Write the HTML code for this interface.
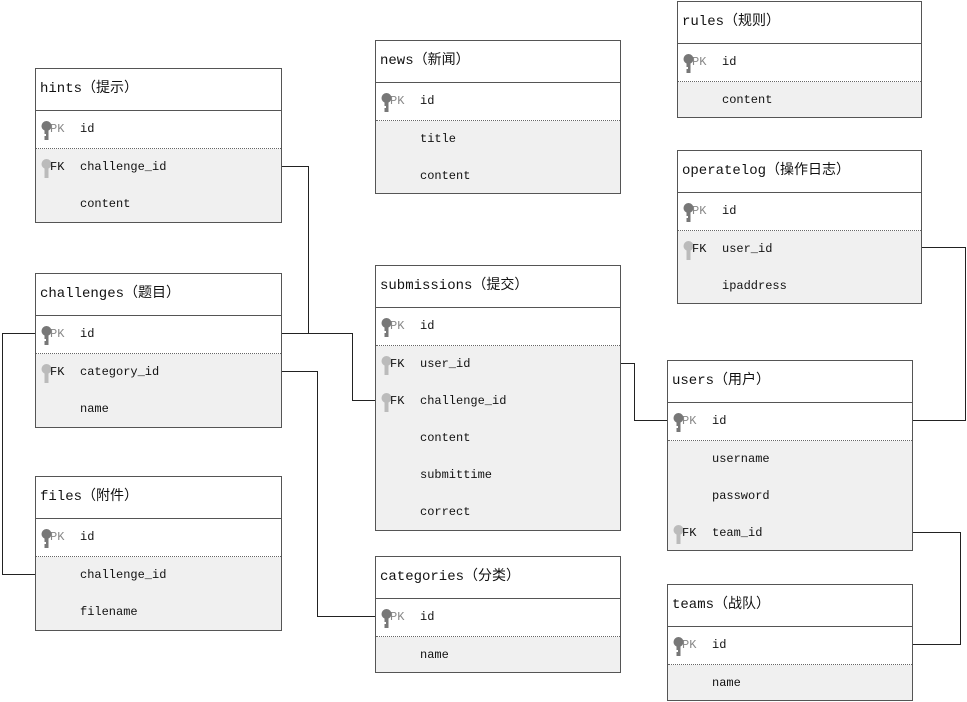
<!DOCTYPE html>
<html><head><meta charset="utf-8"><style>
body{margin:0;width:967px;height:702px;background:#fff;position:relative;overflow:hidden;font-family:"Liberation Mono","Noto Sans CJK SC",monospace;}
.t{position:absolute;border:1px solid #555;background:#f0f0f0;box-sizing:border-box;}
.h{height:41px;background:#fff;border-bottom:1px solid #555;font-size:14px;line-height:41px;padding-left:4px;color:#111;white-space:nowrap;}
.r{height:37px;position:relative;font-size:12px;line-height:37px;color:#111;}
.pk{height:38px;background:#fff;border-bottom:1px dotted #666;box-sizing:border-box;}
.k{position:absolute;left:14px;top:0;font-size:12px;}
.pk .k{color:#888}
.n{position:absolute;left:44px;top:0;}
.key{position:absolute;left:5px;top:10px;width:11px;height:20px;}
svg.l{position:absolute;left:0;top:0;}
</style></head><body>
<svg class="l" width="967" height="702"><g fill="none" stroke="#222" stroke-width="1">
<polyline points="281,166.5 308.5,166.5 308.5,333.5 281,333.5"/>
<polyline points="281,333.5 352.5,333.5 352.5,400.5 375,400.5"/>
<polyline points="35,333.5 2.5,333.5 2.5,574.5 35,574.5"/>
<polyline points="281,371.5 317.5,371.5 317.5,616.5 375,616.5"/>
<polyline points="620,363.5 634.5,363.5 634.5,420.5 667,420.5"/>
<polyline points="912,420.5 965.5,420.5 965.5,247.5 921,247.5"/>
<polyline points="912,532.5 960.5,532.5 960.5,644.5 912,644.5"/>
</g></svg>

<svg width="0" height="0" style="position:absolute"><defs>
<symbol id="kd" viewBox="0 0 11 20"><circle cx="5.5" cy="5" r="5" fill="#777"/><rect x="3.5" y="8" width="4" height="11" fill="#777"/><rect x="3" y="13" width="2" height="2" fill="#fff"/></symbol>
<symbol id="kl" viewBox="0 0 11 20"><circle cx="5.5" cy="5" r="5" fill="#bbb"/><rect x="3.5" y="8" width="4" height="11" fill="#bbb"/></symbol>
</defs></svg>

<div class="t" style="left:35px;top:68px;width:247px;height:155px">
<div class="h">hints（提示）</div>
<div class="r pk"><svg class="key"><use href="#kd"/></svg><span class="k">PK</span><span class="n">id</span></div>
<div class="r"><svg class="key"><use href="#kl"/></svg><span class="k">FK</span><span class="n">challenge_id</span></div>
<div class="r"><span class="n">content</span></div>
</div>

<div class="t" style="left:35px;top:273px;width:247px;height:155px">
<div class="h">challenges（题目）</div>
<div class="r pk"><svg class="key"><use href="#kd"/></svg><span class="k">PK</span><span class="n">id</span></div>
<div class="r"><svg class="key"><use href="#kl"/></svg><span class="k">FK</span><span class="n">category_id</span></div>
<div class="r"><span class="n">name</span></div>
</div>

<div class="t" style="left:35px;top:476px;width:247px;height:155px">
<div class="h">files（附件）</div>
<div class="r pk"><svg class="key"><use href="#kd"/></svg><span class="k">PK</span><span class="n">id</span></div>
<div class="r"><span class="n">challenge_id</span></div>
<div class="r"><span class="n">filename</span></div>
</div>

<div class="t" style="left:375px;top:40px;width:246px;height:154px">
<div class="h">news（新闻）</div>
<div class="r pk"><svg class="key"><use href="#kd"/></svg><span class="k">PK</span><span class="n">id</span></div>
<div class="r"><span class="n">title</span></div>
<div class="r"><span class="n">content</span></div>
</div>

<div class="t" style="left:375px;top:265px;width:246px;height:266px">
<div class="h">submissions（提交）</div>
<div class="r pk"><svg class="key"><use href="#kd"/></svg><span class="k">PK</span><span class="n">id</span></div>
<div class="r"><svg class="key"><use href="#kl"/></svg><span class="k">FK</span><span class="n">user_id</span></div>
<div class="r"><svg class="key"><use href="#kl"/></svg><span class="k">FK</span><span class="n">challenge_id</span></div>
<div class="r"><span class="n">content</span></div>
<div class="r"><span class="n">submittime</span></div>
<div class="r"><span class="n">correct</span></div>
</div>

<div class="t" style="left:375px;top:556px;width:246px;height:117px">
<div class="h">categories（分类）</div>
<div class="r pk"><svg class="key"><use href="#kd"/></svg><span class="k">PK</span><span class="n">id</span></div>
<div class="r"><span class="n">name</span></div>
</div>

<div class="t" style="left:677px;top:1px;width:245px;height:117px">
<div class="h">rules（规则）</div>
<div class="r pk"><svg class="key"><use href="#kd"/></svg><span class="k">PK</span><span class="n">id</span></div>
<div class="r"><span class="n">content</span></div>
</div>

<div class="t" style="left:677px;top:150px;width:245px;height:154px">
<div class="h">operatelog（操作日志）</div>
<div class="r pk"><svg class="key"><use href="#kd"/></svg><span class="k">PK</span><span class="n">id</span></div>
<div class="r"><svg class="key"><use href="#kl"/></svg><span class="k">FK</span><span class="n">user_id</span></div>
<div class="r"><span class="n">ipaddress</span></div>
</div>

<div class="t" style="left:667px;top:360px;width:246px;height:191px">
<div class="h">users（用户）</div>
<div class="r pk"><svg class="key"><use href="#kd"/></svg><span class="k">PK</span><span class="n">id</span></div>
<div class="r"><span class="n">username</span></div>
<div class="r"><span class="n">password</span></div>
<div class="r"><svg class="key"><use href="#kl"/></svg><span class="k">FK</span><span class="n">team_id</span></div>
</div>

<div class="t" style="left:667px;top:584px;width:246px;height:117px">
<div class="h">teams（战队）</div>
<div class="r pk"><svg class="key"><use href="#kd"/></svg><span class="k">PK</span><span class="n">id</span></div>
<div class="r"><span class="n">name</span></div>
</div>
</body></html>
